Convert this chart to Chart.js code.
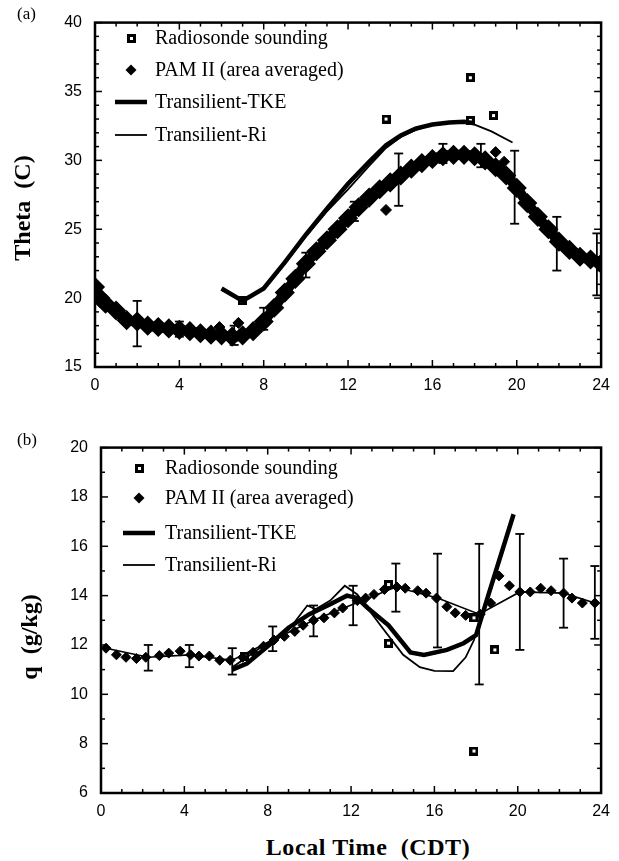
<!DOCTYPE html>
<html lang="en">
<head>
<meta charset="utf-8"/>
<title>Theta and q diurnal cycle</title>
<script src="https://cdn.jsdelivr.net/npm/chart.js"></script>
<style>
  body { margin: 0; background: #fff; width: 619px; height: 861px; position: relative; overflow: hidden; }
  .box { position: absolute; left: 0; width: 619px; }
  .lbl { position: absolute; font-family: 'Liberation Serif', serif; color: #000; white-space: nowrap; }
  .ttl { font-weight: bold; font-size: 24px; transform: translate(-50%, -50%); }
  .rot { transform: translate(-50%, -50%) rotate(-90deg); }
</style>
</head>
<body>
<div class="box" style="top:0; height:400px;"><canvas id="chartA" width="619" height="400"></canvas></div>
<div class="box" style="top:425px; height:400px;"><canvas id="chartB" width="619" height="400"></canvas></div>
<div class="lbl" style="left:17px; top:4px; font-size:17px;">(a)</div>
<div class="lbl" style="left:17px; top:430px; font-size:17px;">(b)</div>
<div class="lbl ttl rot" style="left:22px; top:208px;">Theta&nbsp; (C)</div>
<div class="lbl ttl rot" style="left:29px; top:637px;">q&nbsp; (g/kg)</div>
<div class="lbl ttl" style="left:368px; top:847px; letter-spacing:0.6px;">Local Time&nbsp; (CDT)</div>
<script>
// ---- panel (a): potential temperature ----
const aSondeX = [6.98, 13.8, 17.8, 17.8, 18.9];
const aSondeY = [19.8, 33.0, 36.0, 32.9, 33.25];

const aPamX = [0, 0.25, 0.5, 1, 1.5, 2, 2.5, 3, 3.5, 4, 4.5, 5, 5.5, 6, 6.5, 7, 7.5, 8, 8.5, 9, 9.5, 10, 10.5, 11, 11.5, 12,
  12.5, 13, 13.5, 14, 14.5, 15, 15.5, 16, 16.5, 17, 17.5, 18, 18.5, 19, 19.5, 20, 20.5, 21, 21.5, 22, 22.5, 23, 23.5, 24];
const aPamY = [20.8, 20.0, 19.6, 19.1, 18.4, 18.3, 18.0, 17.9, 17.8, 17.7, 17.6, 17.45, 17.35, 17.3, 17.2, 17.3, 17.6, 18.3,
  19.3, 20.4, 21.4, 22.5, 23.4, 24.2, 25.0, 25.8, 26.6, 27.3, 27.9, 28.4, 28.9, 29.4, 29.8, 30.1, 30.3, 30.4, 30.4, 30.3,
  30.0, 29.5, 28.9, 28.0, 26.9, 25.9, 25.0, 24.1, 23.5, 23.0, 22.8, 22.5];
const aPamExtraX = [5.9, 6.8, 13.8, 19.0, 19.4];
const aPamExtraY = [17.9, 18.2, 26.4, 30.6, 29.9];

const aTkeX = [6, 7, 8, 9, 10, 11, 12, 13, 13.8, 14.5, 15.2, 16, 16.8, 17.5, 18];
const aTkeY = [20.7, 19.8, 20.7, 22.6, 24.6, 26.5, 28.3, 29.9, 31.1, 31.8, 32.3, 32.6, 32.75, 32.8, 32.7];
const aRiX = [6, 7, 8, 9, 10, 11, 12, 13, 13.8, 14.5, 15.2, 16, 16.8, 17.5, 18, 18.8, 19.8];
const aRiY = [20.6, 19.8, 20.7, 22.5, 24.5, 26.3, 27.9, 29.6, 30.9, 31.7, 32.2, 32.6, 32.75, 32.8, 32.6, 32.1, 31.3];

const aErrX = [2, 4, 6.6, 8, 10, 12.3, 14.4, 16.5, 18.3, 19.9, 21.9, 23.8];
const aErrLo = [16.5, 17.2, 16.6, 17.7, 21.5, 25.6, 26.7, 29.8, 29.5, 25.4, 22.0, 20.2];
const aErrHi = [19.8, 18.3, 18.0, 19.3, 23.3, 27.0, 30.5, 31.2, 31.2, 30.7, 25.9, 24.7];

// ---- panel (b): specific humidity ----
const bSondeX = [6.9, 13.8, 13.8, 17.9, 17.9, 18.9];
const bSondeY = [11.55, 12.07, 14.45, 13.1, 7.7, 11.8];

const bPamX = [0.24, 0.74, 1.2, 1.7, 2.15, 2.8, 3.25, 3.8, 4.3, 4.7, 5.2, 5.7, 6.2, 6.8, 7.3, 7.8, 8.3, 8.8, 9.3, 9.7, 10.2,
  10.7, 11.2, 11.6, 12.3, 12.7, 13.1, 13.6, 14.2, 14.6, 15.2, 15.6, 16.1, 16.6, 17.0, 17.5, 18.2, 18.7, 19.1, 19.6, 20.1,
  20.6, 21.1, 21.6, 22.2, 22.6, 23.1, 23.7];
const bPamY = [11.87, 11.6, 11.5, 11.45, 11.5, 11.57, 11.67, 11.75, 11.6, 11.55, 11.55, 11.38, 11.38, 11.5, 11.7, 11.95,
  12.2, 12.35, 12.55, 12.8, 13.0, 13.1, 13.3, 13.5, 13.8, 13.9, 14.05, 14.25, 14.35, 14.3, 14.2, 14.1, 13.9, 13.55, 13.3,
  13.2, 13.25, 13.7, 14.8, 14.4, 14.15, 14.15, 14.3, 14.2, 14.1, 13.9, 13.7, 13.7];
const bMeanX = [0.24, 2.27, 4.24, 6.3, 8.24, 10.2, 12.1, 14.15, 16.15, 18.15, 20.1, 22.2, 23.7];
const bMeanY = [11.87, 11.5, 11.6, 11.38, 12.2, 13.0, 13.65, 14.35, 13.9, 13.25, 14.15, 14.1, 13.7];

const bTkeX = [6.3, 7, 8, 9, 10, 11, 11.8, 12.3, 12.8, 13.8, 14.85, 15.5, 16.6, 17.4, 18.0, 18.6, 19.8];
const bTkeY = [11.0, 11.25, 11.95, 12.7, 13.25, 13.65, 14.0, 13.9, 13.5, 12.8, 11.7, 11.6, 11.8, 12.07, 12.4, 14.05, 17.3];
const bRiX = [6.3, 7, 8, 9, 9.9, 10.3, 11, 11.7, 12.3, 13.5, 14.5, 15.3, 16, 16.9, 17.5, 17.9, 18.2];
const bRiY = [11.1, 11.5, 12.1, 12.6, 13.6, 13.45, 13.8, 14.4, 14.05, 12.7, 11.6, 11.1, 10.95, 10.94, 11.5, 12.2, 13.1];

const bErrX = [2.27, 4.24, 6.3, 8.24, 10.2, 12.1, 14.15, 16.15, 18.15, 20.1, 22.2, 23.7];
const bErrLo = [10.96, 11.1, 10.8, 11.75, 12.35, 12.8, 13.35, 11.9, 10.4, 11.8, 12.7, 12.25];
const bErrHi = [12.0, 12.0, 11.87, 12.75, 13.6, 14.4, 15.3, 15.7, 16.1, 16.5, 15.5, 15.2];

const hourTicks = [0, 4, 8, 12, 16, 20, 24];

function pts(xs, ys) { return xs.map((x, i) => ({x: x, y: ys[i]})); }

// little black square with a tiny white centre, like the sounding marks
function sondeMark(n) {
  const c = document.createElement('canvas');
  c.width = n; c.height = n;
  const g = c.getContext('2d');
  g.fillStyle = '#000'; g.fillRect(0, 0, n, n);
  g.fillStyle = '#fff'; g.fillRect(3, 3, n - 6, n - 6);
  return c;
}
const sq = sondeMark(9);

function seg(ctx, x0, y0, x1, y1) { ctx.beginPath(); ctx.moveTo(x0, y0); ctx.lineTo(x1, y1); ctx.stroke(); }

const frameTicks = {
  id: 'frameTicks',
  afterDraw(chart, args, o) {
    const ctx = chart.ctx, a = chart.chartArea, x = chart.scales.x, y = chart.scales.y;
    ctx.save();
    ctx.strokeStyle = '#000';
    ctx.lineWidth = 1.5;
    for (let h = 0; h <= 24; h++) {
      const px = x.getPixelForValue(h), L = h % 4 === 0 ? 7 : 4;
      seg(ctx, px, a.bottom, px, a.bottom - L);
      seg(ctx, px, a.top, px, a.top + L);
    }
    for (let v = y.min; v <= y.max; v++) {
      const py = y.getPixelForValue(v), L = v % o.major === 0 ? 7 : 4;
      seg(ctx, a.left, py, a.left + L, py);
      seg(ctx, a.right, py, a.right - L, py);
    }
    ctx.lineWidth = 2.5;
    ctx.strokeRect(a.left, a.top, a.right - a.left, a.bottom - a.top);
    ctx.restore();
  }
};

const errBars = {
  id: 'errBars',
  afterDatasetsDraw(chart, args, o) {
    const ctx = chart.ctx, x = chart.scales.x, y = chart.scales.y;
    ctx.save();
    ctx.strokeStyle = '#000';
    ctx.lineWidth = 1.8;
    o.xs.forEach((v, i) => {
      const px = x.getPixelForValue(v), p0 = y.getPixelForValue(o.lo[i]), p1 = y.getPixelForValue(o.hi[i]);
      seg(ctx, px, p0, px, p1);
      seg(ctx, px - 4.5, p0, px + 4.5, p0);
      seg(ctx, px - 4.5, p1, px + 4.5, p1);
    });
    ctx.restore();
  }
};

const boxLegend = {
  id: 'boxLegend',
  afterDraw(chart, args, o) {
    const ctx = chart.ctx;
    ctx.save();
    ctx.font = '20px "Liberation Serif", serif';
    ctx.fillStyle = '#000';
    ctx.strokeStyle = '#000';
    ctx.textBaseline = 'middle';
    o.items.forEach(it => {
      const ds = chart.data.datasets[it.ds];
      const cy = it.y, cx = (o.x0 + o.x1) / 2;
      if (it.kind === 'square') {
        ctx.drawImage(sq, Math.round(cx - 4.5), Math.round(cy - 4.5));
      } else if (it.kind === 'diamond') {
        ctx.beginPath();
        ctx.moveTo(cx, cy - 5.5); ctx.lineTo(cx + 5.5, cy); ctx.lineTo(cx, cy + 5.5); ctx.lineTo(cx - 5.5, cy);
        ctx.closePath(); ctx.fill();
      } else {
        ctx.lineWidth = ds.borderWidth;
        seg(ctx, o.x0, cy, o.x1, cy);
      }
      ctx.fillText(ds.label, o.tx, cy + 1);
    });
    ctx.restore();
  }
};

function makeChart(id, cfg) {
  const tickFont = {family: '"Liberation Sans", Arial, sans-serif', size: 16};
  return new Chart(document.getElementById(id), {
    type: 'scatter',
    data: {datasets: cfg.datasets},
    plugins: [frameTicks, errBars, boxLegend],
    options: {
      responsive: false,
      animation: false,
      layout: {padding: cfg.pad},
      scales: {
        x: {
          type: 'linear', min: 0, max: 24,
          afterBuildTicks: s => { s.ticks = hourTicks.map(v => ({value: v})); },
          afterFit: s => { s.height = cfg.xh; },
          grid: {display: false, drawTicks: false},
          border: {display: false},
          ticks: {color: '#000', font: tickFont, padding: 9}
        },
        y: {
          type: 'linear', min: cfg.ymin, max: cfg.ymax,
          ticks: {stepSize: cfg.major, color: '#000', font: tickFont, padding: 13},
          afterFit: s => { s.width = 50; },
          grid: {display: false, drawTicks: false},
          border: {display: false}
        }
      },
      plugins: {
        legend: {display: false},
        tooltip: {enabled: false},
        frameTicks: {major: cfg.major},
        errBars: cfg.err,
        boxLegend: cfg.legend
      }
    }
  });
}

makeChart('chartA', {
  pad: {left: 45, right: 15, top: 15, bottom: 0},
  xh: 33, ymin: 15, ymax: 40, major: 5,
  err: {xs: aErrX, lo: aErrLo, hi: aErrHi},
  legend: {x0: 115, x1: 147, tx: 155, items: [
    {ds: 4, kind: 'square', y: 38}, {ds: 2, kind: 'diamond', y: 70},
    {ds: 0, kind: 'line', y: 102}, {ds: 1, kind: 'line', y: 135}]},
  datasets: [
    {label: 'Transilient-TKE', data: pts(aTkeX, aTkeY), showLine: true, borderColor: '#000', borderWidth: 4.5, pointRadius: 0},
    {label: 'Transilient-Ri', data: pts(aRiX, aRiY), showLine: true, borderColor: '#000', borderWidth: 1.8, pointRadius: 0},
    {label: 'PAM II (area averaged)', data: pts(aPamX, aPamY), showLine: true, borderColor: '#000', borderWidth: 10,
      borderJoinStyle: 'round', borderCapStyle: 'round', pointStyle: 'rectRot', pointRadius: 3, backgroundColor: '#000',
      cubicInterpolationMode: 'monotone'},
    {label: 'PAM extra', data: pts(aPamExtraX, aPamExtraY), pointStyle: 'rectRot', pointRadius: 5.5,
      backgroundColor: '#000', borderColor: '#000'},
    {label: 'Radiosonde sounding', data: pts(aSondeX, aSondeY), pointStyle: sq}
  ]
});

makeChart('chartB', {
  pad: {left: 51, right: 8, top: 16, bottom: 0},
  xh: 32, ymin: 6, ymax: 20, major: 2,
  err: {xs: bErrX, lo: bErrLo, hi: bErrHi},
  legend: {x0: 123, x1: 155, tx: 165, items: [
    {ds: 5, kind: 'square', y: 468}, {ds: 3, kind: 'diamond', y: 498},
    {ds: 0, kind: 'line', y: 533}, {ds: 1, kind: 'line', y: 565}].map(it => ({...it, y: it.y - 425}))},
  datasets: [
    {label: 'Transilient-TKE', data: pts(bTkeX, bTkeY), showLine: true, borderColor: '#000', borderWidth: 4.5, pointRadius: 0},
    {label: 'Transilient-Ri', data: pts(bRiX, bRiY), showLine: true, borderColor: '#000', borderWidth: 1.8, pointRadius: 0},
    {label: 'PAM mean', data: pts(bMeanX, bMeanY), showLine: true, borderColor: '#000', borderWidth: 1.6, pointRadius: 0},
    {label: 'PAM II (area averaged)', data: pts(bPamX, bPamY), pointStyle: 'rectRot', pointRadius: 5,
      backgroundColor: '#000', borderColor: '#000'},
    {label: 'unused', data: []},
    {label: 'Radiosonde sounding', data: pts(bSondeX, bSondeY), pointStyle: sq}
  ]
});
</script>
</body>
</html>
